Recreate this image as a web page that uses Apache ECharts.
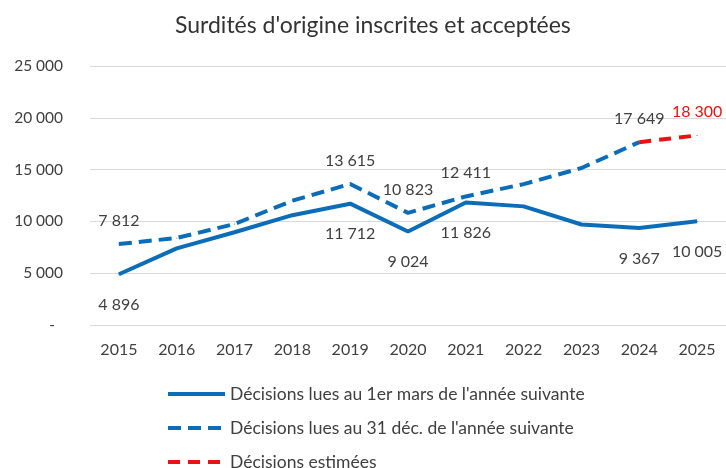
<!DOCTYPE html>
<html>
<head>
<meta charset="utf-8">
<script src="https://cdn.jsdelivr.net/npm/echarts@6/dist/echarts.min.js"></script>
<style>
html,body{margin:0;padding:0;background:#fff;}
#chart{width:726px;height:468px;}
</style>
</head>
<body>
<div id="chart"></div>
<script>
const titleText = "Surdités d'origine inscrites et acceptées";
const years = ['2015','2016','2017','2018','2019','2020','2021','2022','2023','2024','2025'];
const seriesNames = [
  "Décisions lues au 1er mars de l'année suivante",
  "Décisions lues au 31 déc. de l'année suivante",
  "Décisions estimées"
];
const marsValues = [4896, 7400, 8950, 10600, 11712, 9024, 11826, 11450, 9700, 9367, 10005];
const decValues = [7812, 8400, 9750, 12000, 13615, 10823, 12411, 13600, 15150, 17649, null];
const estValues = [null, null, null, null, null, null, null, null, null, 17649, 18300];
// which points carry a value label (true = labelled)
const marsLabelled = [true, false, false, false, true, true, true, false, false, true, true];
const decLabelled = [true, false, false, false, true, true, true, false, false, true, false];
const estLabelled = [false, false, false, false, false, false, false, false, false, false, true];
const yTicks = [0, 5000, 10000, 15000, 20000, 25000];

const FONT = 'Lato';
const BLUE = '#0b6db8';
const RED = '#ee1111';
const TXT = '#404040';

function fmt(v) {
  if (v === 0) return '-';
  return String(Math.round(v)).replace(/\B(?=(\d{3})+(?!\d))/g, '\u202f');
}

function mk(values, labelled, pos, dist, color) {
  return values.map((v, i) => {
    if (v === null) return null;
    const o = { value: v };
    if (labelled[i]) {
      o.label = { show: true, position: pos, distance: dist, color: color };
    }
    return o;
  });
}

const chart = echarts.init(document.getElementById('chart'), null, { renderer: 'canvas' });
const labelCommon = {
  show: false,
  fontFamily: FONT,
  fontSize: 16,
  formatter: p => fmt(p.value)
};

chart.setOption({
  animation: false,
  backgroundColor: '#ffffff',
  textStyle: { fontFamily: FONT },
  title: {
    text: titleText,
    left: 170,
    top: 9,
    textStyle: { fontFamily: FONT, fontSize: 23, fontWeight: 'normal', color: '#333' }
  },
  legend: {
    orient: 'vertical',
    left: 161,
    top: 380,
    height: 130,
    itemWidth: 57,
    itemHeight: 14,
    itemGap: 16,
    itemStyle: { opacity: 0 },
    lineStyle: { width: 4 },
    textStyle: { fontFamily: FONT, fontSize: 17.5, color: TXT },
    data: seriesNames
  },
  grid: { left: 90, right: 0, top: 66, bottom: 143, containLabel: false },
  xAxis: {
    type: 'category',
    data: years,
    boundaryGap: true,
    axisLine: { show: false },
    axisTick: { show: false },
    axisLabel: { fontFamily: FONT, fontSize: 16, color: TXT, margin: 17 }
  },
  yAxis: {
    type: 'value',
    min: yTicks[0],
    max: yTicks[yTicks.length - 1],
    interval: yTicks[1] - yTicks[0],
    axisLine: { show: false },
    axisTick: { show: false },
    splitLine: { lineStyle: { color: '#d9d9d9', width: 1 } },
    axisLabel: {
      fontFamily: FONT, fontSize: 15.5, color: TXT, margin: 27,
      formatter: v => v === 0 ? '{d|-}' : fmt(v),
      rich: { d: { fontFamily: FONT, fontSize: 15.5, color: TXT, padding: [0, 8, 0, 0] } }
    }
  },
  series: [
    {
      name: seriesNames[0],
      type: 'line',
      data: mk(marsValues, marsLabelled, 'bottom', 22, TXT),
      symbol: 'circle',
      symbolSize: 1,
      showSymbol: true,
      itemStyle: { color: BLUE },
      lineStyle: { color: BLUE, width: 4, cap: 'butt' },
      label: labelCommon,
      z: 3
    },
    {
      name: seriesNames[1],
      type: 'line',
      data: mk(decValues, decLabelled, 'top', 15, TXT),
      symbol: 'circle',
      symbolSize: 1,
      showSymbol: true,
      itemStyle: { color: BLUE },
      lineStyle: { color: BLUE, width: 4, type: [13, 7], cap: 'butt' },
      label: labelCommon,
      z: 3
    },
    {
      name: seriesNames[2],
      type: 'line',
      data: mk(estValues, estLabelled, 'top', 15, RED),
      symbol: 'circle',
      symbolSize: 1,
      showSymbol: true,
      itemStyle: { color: RED },
      lineStyle: { color: RED, width: 4, type: [12, 8], cap: 'butt' },
      label: labelCommon,
      z: 4
    }
  ]
});
</script>
</body>
</html>
